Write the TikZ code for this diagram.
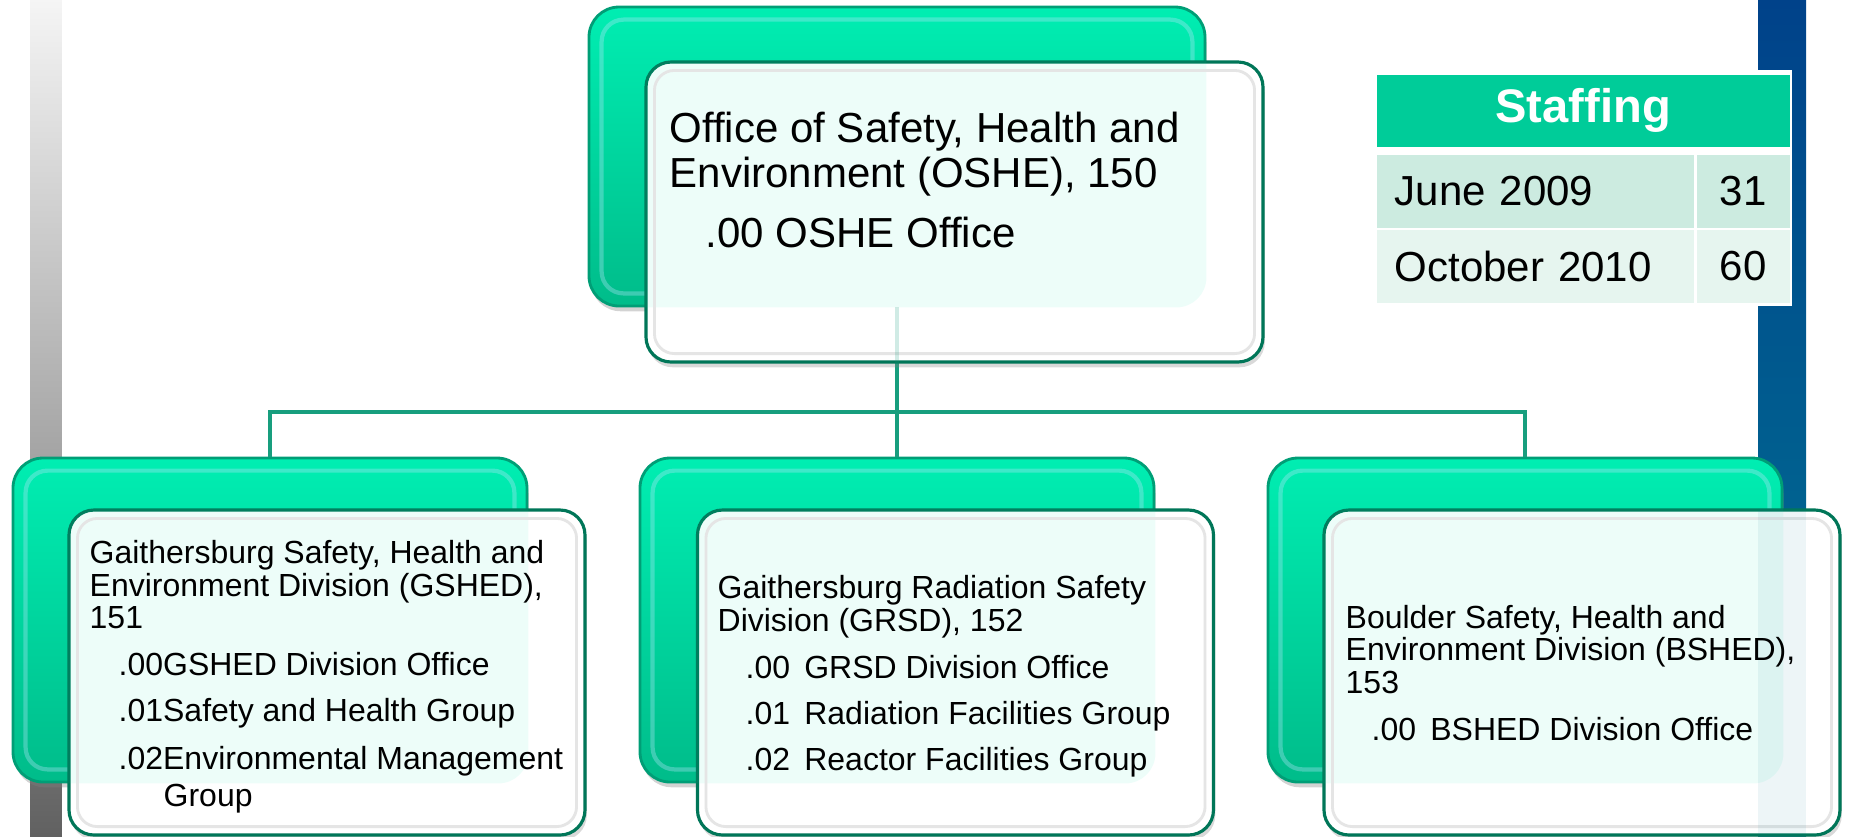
\documentclass[tikz,border=0pt]{standalone}
\usepackage{fontspec}
\setmainfont{Liberation Sans}
\usepackage{tikz}
\usetikzlibrary{calc, shadows}
\definecolor{boxgreen}{RGB}{0,238,178}
\definecolor{boxgreendark}{RGB}{0,188,138}
\definecolor{edgegreen}{RGB}{0,158,118}
\definecolor{linkteal}{RGB}{24,158,126}
\definecolor{staffgreen}{RGB}{0,204,153}
\definecolor{rowone}{RGB}{204,235,224}
\definecolor{rowtwo}{RGB}{230,245,239}
\definecolor{barblue}{RGB}{0,66,138}
\definecolor{barteal}{RGB}{0,118,148}

\begin{document}
\begin{tikzpicture}[
    backbox/.style={rounded corners=0.3cm, draw=edgegreen, line width=0.8pt,
        top color=boxgreen, bottom color=boxgreendark,
        drop shadow={shadow xshift=0.5pt, shadow yshift=-1.5pt, opacity=0.35}},
    frontbox/.style={rounded corners=0.25cm, draw=edgegreen!75!black, line width=0.9pt,
        fill=white,
        drop shadow={shadow xshift=0.5pt, shadow yshift=-1.5pt, opacity=0.3}},
    link/.style={linkteal, line width=1.2pt},
    unittext/.style={anchor=north west, align=left, inner sep=0pt,
        font=\fontsize{9.1}{9.2}\selectfont},
    cell/.style={anchor=north west, inner sep=0pt, minimum height=0.73cm,
        font=\fontsize{11.95}{13}\selectfont}
]
    \useasboundingbox (0,0) rectangle (18.49,-8.36);

    % Side bars
    \shade[top color=black!4, middle color=black!23, bottom color=black!62] (0.30,0) rectangle (0.62,-8.36);
    \shade[top color=barblue, bottom color=barteal] (17.58,0) rectangle (18.06,-8.36);

    % Back boxes
    \node[backbox, minimum width=6.16cm, minimum height=2.99cm] (oshe-back) at (8.97,-1.565) {};
    \foreach \n/\x in {gshed/2.70, grsd/8.97, bshed/15.25} {
        \node[backbox, minimum width=5.14cm, minimum height=3.24cm] (\n-back) at (\x,-6.20) {};
    }
    \foreach \n in {oshe,gshed,grsd,bshed} {
        \draw[cyan!30!white, opacity=0.35, line width=1.2pt, rounded corners=0.22cm]
            ($(\n-back.south west)+(0.14,0.14)$) rectangle ($(\n-back.north east)-(0.14,0.14)$);
    }

    % Connectors
    \coordinate (bus) at (8.97,-4.12);
    \foreach \n in {gshed,grsd,bshed} {
        \draw[link] (oshe-back.south) -- (oshe-back.south |- bus) -| (\n-back.north);
    }

    % Front boxes
    \node[frontbox, minimum width=6.17cm, minimum height=3.0cm] (oshe) at (9.545,-2.12) {};
    \foreach \n/\x in {gshed/3.27, grsd/9.555, bshed/15.82} {
        \node[frontbox, minimum width=5.16cm, minimum height=3.25cm] (\n) at (\x,-6.725) {};
    }
    % light tint where the back box shows through
    \foreach \n in {oshe,gshed,grsd,bshed} {
        \begin{scope}
            \clip[rounded corners=0.25cm] (\n.south west) rectangle (\n.north east);
            \fill[boxgreen, opacity=0.07, rounded corners=0.3cm] (\n-back.south west) rectangle (\n-back.north east);
        \end{scope}
        \draw[black!10, line width=0.8pt, rounded corners=0.2cm]
            ($(\n.south west)+(0.1,0.1)$) rectangle ($(\n.north east)-(0.1,0.1)$);
    }
    \begin{scope}
        \clip[rounded corners=0.25cm] (bshed.south west) rectangle (bshed.north east);
        \fill[barteal, opacity=0.07] (17.58,-5.0) rectangle (18.06,-8.36);
    \end{scope}
    \draw[link, opacity=0.2] (oshe-back.south) -- (oshe-back.south |- oshe.south);

    % Unit texts
    \node[unittext, font=\fontsize{11.95}{12.8}\selectfont] (oshe-txt) at (6.69,-1.11)
        {Office of Safety, Health and\\Environment (OSHE), 150\\[4.5pt]\hspace*{0.36cm}.00 OSHE Office};
    \node[unittext] (gshed-txt) at (0.89,-5.40)
        {Gaithersburg Safety, Health and\\Environment Division (GSHED),\\151\\[4.2pt]%
        \hspace*{0.29cm}.00GSHED Division Office\\[3.9pt]%
        \hspace*{0.29cm}.01Safety and Health Group\\[4.3pt]%
        \hspace*{0.29cm}.02Environmental Management\\[1.3pt]%
        \hspace*{0.74cm}Group};
    \node[unittext] (grsd-txt) at (7.17,-5.75)
        {Gaithersburg Radiation Safety\\Division (GRSD), 152\\[4.2pt]%
        \hspace*{0.28cm}.00 \,GRSD Division Office\\[3.9pt]%
        \hspace*{0.28cm}.01 \,Radiation Facilities Group\\[3.9pt]%
        \hspace*{0.28cm}.02 \,Reactor Facilities Group};
    \node[unittext] (bshed-txt) at (13.45,-6.045)
        {Boulder Safety, Health and\\Environment Division (BSHED),\\153\\[4.2pt]%
        \hspace*{0.26cm}.00 \,BSHED Division Office};

    % Staffing table
    \fill[white] (13.73,-0.70) rectangle (17.92,-3.06);
    \node[cell, fill=staffgreen, minimum width=4.13cm, minimum height=0.72cm, text=white,
        font=\fontsize{13.4}{14}\selectfont\bfseries] (staff) at (13.76,-0.74) {Staffing};
    \foreach \r/\y/\c/\when/\num in {1/-1.54/rowone/June 2009/31, 2/-2.29/rowtwo/October 2010/60} {
        \node[cell, fill=\c, text width=2.81cm, inner xsep=0.18cm, align=left] (when\r) at (13.76,\y) {\when};
        \node[cell, fill=\c, minimum width=0.93cm] (num\r) at (16.96,\y) {\num};
    }
\end{tikzpicture}
\end{document}
